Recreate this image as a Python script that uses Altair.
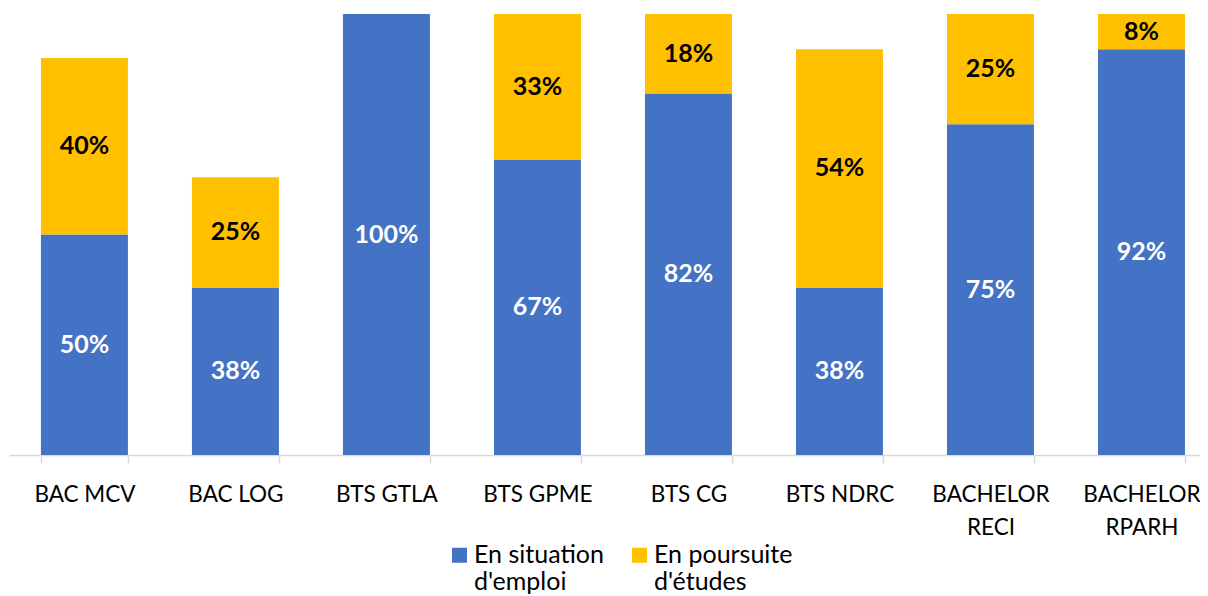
import altair as alt
import pandas as pd

categories = ["BAC MCV", "BAC LOG", "BTS GTLA", "BTS GPME", "BTS CG", "BTS NDRC", "BACHELOR RECI", "BACHELOR RPARH"]
emploi = [50, 38, 100, 67, 82, 38, 75, 92]
etudes = [40, 25, 0, 33, 18, 54, 25, 8]
series = ["En situation d'emploi", "En poursuite d'études"]
colors = ["#4472C4", "#FFC000"]

rows = []
for i, c in enumerate(categories):
    rows.append({"cat": c, "serie": series[0], "value": emploi[i], "ord": 0})
    rows.append({"cat": c, "serie": series[1], "value": etudes[i], "ord": 1})
df = pd.DataFrame(rows)

FONT = "Lato"

base = alt.Chart(df).transform_stack(
    stack="value", groupby=["cat"], as_=["y0", "y1"], sort=[alt.SortField("ord", order="ascending")]
).transform_calculate(mid="(datum.y0 + datum.y1) / 2", lab="datum.value + '%'")

xenc = alt.X(
    "cat:N",
    sort=categories,
    title=None,
    scale=alt.Scale(range=[1, 1192], paddingInner=0.424, paddingOuter=0.1555, align=0.68),
    axis=alt.Axis(
        labelAngle=0,
        labelFont=FONT,
        labelFontSize=22.5,
        labelColor="#000000",
        labelPadding=20,
        labelLineHeight=33,
        labelExpr="indexof(datum.label, 'BACHELOR') == 0 ? split(datum.label, ' ') : datum.label",
        domainColor="#D9D9D9",
        domainWidth=1.5,
        tickColor="#D9D9D9",
        tickWidth=1.5,
        tickSize=8,
        tickBand="extent",
        labelBound=False,
        labelOverlap=False,
    ),
)

bars = base.mark_bar().encode(
    x=xenc,
    y=alt.Y("y0:Q", scale=alt.Scale(domain=[0, 100], nice=False), axis=None),
    y2="y1:Q",
    color=alt.Color(
        "serie:N",
        scale=alt.Scale(domain=series, range=colors),
        legend=alt.Legend(
            title=None,
            orient="none",
            legendX=439,
            legendY=536,
            direction="horizontal",
            symbolType="M-1,-2H1V0H-1Z",
            symbolSize=225,
            symbolStrokeWidth=0,
            labelFont=FONT,
            labelFontSize=25,
            labelColor="#000000",
            labelOffset=2,
            labelBaseline="alphabetic",
            columnPadding=23,
            padding=0,
            labelExpr="split(replace(datum.label, ' d', '|d'), '|')",
        ),
    ),
)

texts = base.transform_filter("datum.value > 0").mark_text(
    font=FONT, fontSize=25, fontWeight="bold"
).encode(
    x=alt.X("cat:N", sort=categories),
    y=alt.Y("mid:Q"),
    text="lab:N",
    color=alt.Color("serie:N", scale=alt.Scale(domain=series, range=["#FFFFFF", "#000000"]), legend=None),
)

chart = alt.layer(bars, texts).resolve_scale(color="independent").properties(
    width=1192,
    height=441,
    autosize=alt.AutoSizeParams(type="none"),
    padding={"top": 6, "left": 0, "right": 0, "bottom": 141},
).configure(
    background="#FFFFFF",
    view={"stroke": "transparent"},
    style={"guide-label": {"lineHeight": 27}},
)

chart.save("out.html", embed_options={"renderer": "svg", "actions": False})
